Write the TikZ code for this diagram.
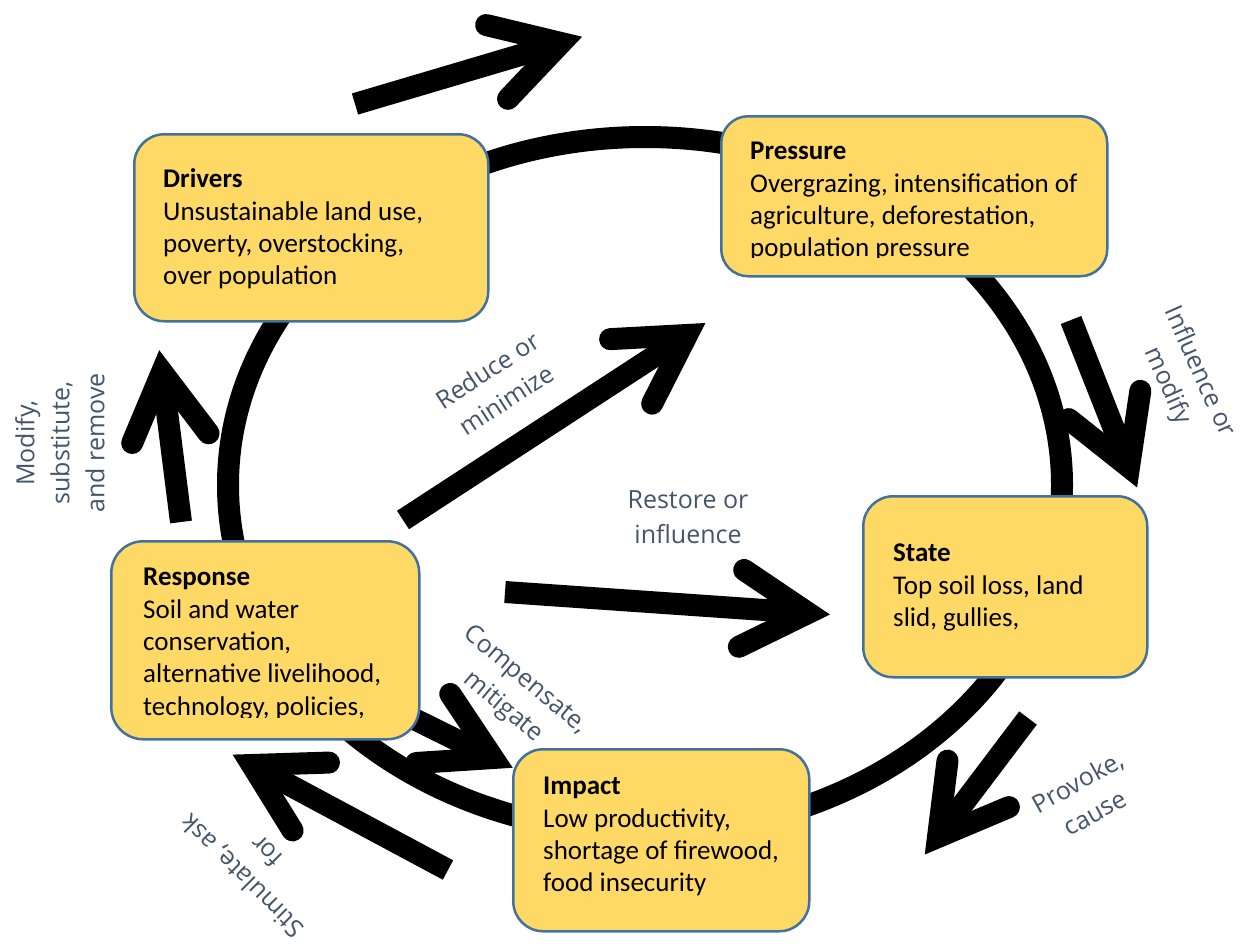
\documentclass[tikz,border=0pt]{standalone}
\usepackage{fontspec}
\usetikzlibrary{calc}
\newfontfamily\carlito{Carlito}
\newfontfamily\opensans{Open Sans}
\definecolor{boxfill}{HTML}{FFD966}
\definecolor{boxline}{HTML}{41719C}
\definecolor{lblcol}{HTML}{44546A}
\tikzset{
  box/.style={draw=boxline, fill=boxfill, line width=2.5pt, rounded corners=30pt, inner sep=0pt, anchor=north west},
  boxtext/.style={font={\carlito\fontsize{27}{32.3}\selectfont}, align=left, inner sep=0pt, anchor=north west},
  lbl/.style={font={\opensans\fontsize{25}{35}\selectfont}, text=lblcol, align=center, inner sep=0pt},
  shaft/.style={line width=22pt, line cap=butt},
  head/.style={line width=22pt, line cap=round, line join=miter, miter limit=10},
  ring/.style={line width=22pt}
}
\newcommand\bigarrow[2]{%
  \draw[shaft] (#1) -- (#2);
  \draw[head] ($(#2)!77pt!30:(#1)$) -- (#2) -- ($(#2)!77pt!-30:(#1)$);
}
\begin{document}
\begin{tikzpicture}[x=1pt, y=-1pt]
\useasboundingbox (0,0) rectangle (1241,943);
% ring
\coordinate (ringc) at (645,485);
\draw[ring] (ringc) ellipse [x radius=417pt, y radius=348pt];
% arrow coordinates
\coordinate (t1) at (355,104);  \coordinate (h1) at (561,43);
\coordinate (t2) at (1071,320); \coordinate (h2) at (1129,467);
\coordinate (t3) at (181,522);  \coordinate (h3) at (162,372);
\coordinate (t4) at (403,520);  \coordinate (h4) at (687,335);
\coordinate (t5) at (505,592);  \coordinate (h5) at (808,613);
\coordinate (t6) at (408,716);  \coordinate (h6) at (493,758);
\coordinate (t7) at (448,870);  \coordinate (h7) at (252,765);
\coordinate (t8) at (1028,718); \coordinate (h8) at (938,837);
\bigarrow{t1}{h1}
\bigarrow{t2}{h2}
\bigarrow{t3}{h3}
\bigarrow{t4}{h4}
\bigarrow{t5}{h5}
\bigarrow{t6}{h6}
\bigarrow{t7}{h7}
\bigarrow{t8}{h8}
% boxes
\node[box, minimum width=354pt, minimum height=187pt] (drivers) at (133,133) {};
\node[box, minimum width=386pt, minimum height=160pt, rounded corners=27pt] (pressure) at (720,115) {};
\node[box, minimum width=284pt, minimum height=181pt] (state) at (862,495) {};
\node[box, minimum width=296pt, minimum height=182pt] (impact) at (512,748) {};
\node[box, minimum width=308pt, minimum height=198pt, rounded corners=32pt] (response) at (110,540) {};
% box texts
\node[boxtext] (driverstext) at (163,165) {\strut\textbf{Drivers}\\Unsustainable land use,\\poverty, overstocking,\\over population};
\begin{scope}
\clip (720,115) rectangle (1106,257);
\node[boxtext] (pressuretext) at (750,137) {\strut\textbf{Pressure}\\Overgrazing, intensification of\\agriculture, deforestation,\\population pressure};
\end{scope}
\node[boxtext] (statetext) at (893,539) {\strut\textbf{State}\\Top soil loss, land\\slid, gullies,};
\node[boxtext] (impacttext) at (543,772) {\strut\textbf{Impact}\\Low productivity,\\shortage of firewood,\\food insecurity};
\begin{scope}
\clip (110,540) rectangle (418,717);
\node[boxtext] (responsetext) at (143,563) {\strut\textbf{Response}\\Soil and water\\conservation,\\alternative livelihood,\\technology, policies,};
\end{scope}
% labels
\node[lbl, rotate=33] (lreduce) at (497,385) {Reduce or\\minimize};
\node[lbl] (lrestore) at (688,517) {Restore or\\influence};
\node[lbl, rotate=-66] (linfluence) at (1183,379) {Influence or\\modify};
\node[lbl, rotate=90] (lmodify) at (60,443) {Modify,\\substitute,\\and remove};
\node[lbl, rotate=-40] (lcomp) at (514,694) {Compensate,\\mitigate};
\node[lbl, rotate=135] (lstim) at (254,864) {Stimulate, ask\\for};
\node[lbl, rotate=29] (lprov) at (1086,797) {Provoke,\\cause};
\end{tikzpicture}
\end{document}
